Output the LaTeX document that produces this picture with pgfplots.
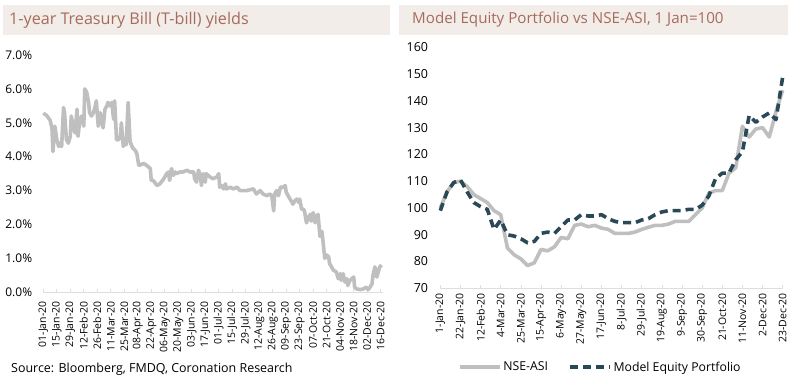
\documentclass[border=0pt]{standalone}
\usepackage{fontspec}
\setmainfont{Open Sans}
\usepackage{pgfplots}
\pgfplotsset{compat=1.18}
\definecolor{bandcol}{RGB}{243,237,234}
\definecolor{titlecol}{RGB}{166,107,91}
\definecolor{lgray}{RGB}{191,191,191}
\definecolor{dteal}{RGB}{42,73,88}
\definecolor{axcol}{RGB}{222,222,222}
\begin{document}
\begin{tikzpicture}
\path[use as bounding box] (0bp,0bp) rectangle (796bp,381bp);
\fill[bandcol] (3bp,346bp) rectangle (390bp,376bp);
\fill[bandcol] (399bp,346bp) rectangle (788bp,376bp);
\node[anchor=west, inner sep=0pt, text=titlecol, font=\fontsize{16.2}{18}\selectfont] at (9bp,361bp) {1-year Treasury Bill (T-bill) yields};
\node[anchor=west, inner sep=0pt, text=titlecol, font=\fontsize{15.2}{18}\selectfont] at (412bp,361bp) {Model Equity Portfolio vs NSE-ASI, 1 Jan=100};
\node[anchor=west, inner sep=0pt, font=\fontsize{12.5}{14}\selectfont] at (11bp,12bp) {Source: Bloomberg, FMDQ, Coronation Research};

\begin{axis}[
  at={(43.3bp,88.7bp)}, anchor=south west,
  scale only axis, width=339.3bp, height=237.3bp,
  xmin=0, xmax=352, ymin=0, ymax=7,
  axis lines*=left,
  y axis line style={draw=none},
  x axis line style={draw=axcol, line width=0.8bp},
  ytick style={draw=none},
  xtick style={draw=axcol, line width=0.6bp},
  tick align=inside, major tick length=3bp,
  ytick={0,1,2,3,4,5,6,7},
  yticklabels={0.0\%,1.0\%,2.0\%,3.0\%,4.0\%,5.0\%,6.0\%,7.0\%},
  yticklabel style={font=\fontsize{12}{14}\selectfont, inner sep=0pt, anchor=east, xshift=-11bp},
  xtick={0,14,...,350},
  xticklabels={01-Jan-20,15-Jan-20,29-Jan-20,12-Feb-20,26-Feb-20,11-Mar-20,25-Mar-20,08-Apr-20,22-Apr-20,06-May-20,20-May-20,03-Jun-20,17-Jun-20,01-Jul-20,15-Jul-20,29-Jul-20,12-Aug-20,26-Aug-20,09-Sep-20,23-Sep-20,07-Oct-20,21-Oct-20,04-Nov-20,18-Nov-20,02-Dec-20,16-Dec-20},
  xticklabel style={font=\fontsize{10.5}{12}\selectfont, inner sep=0pt, rotate=90, anchor=east},
  xticklabel shift=9bp,
  clip=false,
]
\addplot[lgray, line width=3.6bp, line join=round] coordinates {
(0,5.28)(3,5.23)(7,5.08)(9,4.84)(10,4.15)(12,4.9)(14,4.5)(16,4.3)(17,4.4)(19,4.3)
(21,5.45)(22,5.3)(24,4.5)(26,4.4)(28,4.6)(29,5.2)(31,4.9)(33,4.7)(35,5.4)(36,4.6)
(38,5.1)(40,5.2)(42,4.9)(43,6.0)(45,5.9)(47,5.6)(48,5.3)(50,5.2)(52,5.3)(54,5.5)
(55,5.65)(57,4.9)(59,5.3)(61,5.0)(62,4.85)(64,5.4)(66,5.5)(67,5.6)(69,5.5)(71,5.6)
(73,5.1)(74,5.65)(76,4.5)(78,4.5)(80,4.6)(81,5.0)(83,4.3)(85,4.5)(86,4.35)(88,5.6)
(90,4.45)(92,4.3)(93,4.25)(95,4.2)(97,4.1)(99,3.75)(100,3.75)(104,3.8)(107,3.75)(111,3.65)
(112,3.3)(114,3.3)(118,3.15)(121,3.2)(125,3.35)(128,3.5)(130,3.55)(131,3.3)(133,3.65)(135,3.45)
(137,3.55)(138,3.5)(142,3.55)(145,3.55)(149,3.6)(152,3.55)(156,3.55)(157,3.35)(159,3.25)(161,3.6)
(163,3.45)(164,3.15)(166,3.5)(168,3.25)(169,3.5)(173,3.4)(176,3.35)(180,3.4)(182,3.5)(183,3.1)
(185,3.15)(187,3.05)(189,3.2)(190,3.05)(194,3.1)(197,3.05)(201,3.1)(204,3.0)(211,3.0)(218,3.05)
(221,2.9)(225,3.0)(228,2.9)(232,2.85)(235,2.9)(237,2.85)(239,2.4)(240,2.9)(242,3.0)(244,2.85)
(246,3.1)(249,3.1)(251,3.15)(252,2.95)(256,2.75)(259,2.6)(261,2.7)(263,2.75)(265,2.65)(266,2.75)
(268,2.45)(270,2.45)(271,2.4)(273,2.05)(275,2.2)(277,2.3)(278,2.1)(280,2.35)(282,2.05)(284,2.25)
(285,2.3)(287,1.65)(289,1.8)(290,1.55)(292,1.0)(294,1.1)(296,1.05)(297,0.85)(301,0.65)(304,0.6)
(306,0.4)(308,0.55)(309,0.35)(311,0.55)(313,0.3)(315,0.4)(316,0.2)(318,0.35)(322,0.45)(323,0.15)
(325,0.1)(329,0.08)(332,0.1)(335,0.15)(337,0.08)(339,0.15)(341,0.25)(342,0.5)(344,0.75)(346,0.45)
(348,0.65)(349,0.75)(351,0.8)
};
\end{axis}

\begin{axis}[
  at={(440.3bp,92.7bp)}, anchor=south west,
  scale only axis, width=342.4bp, height=241bp,
  xmin=0, xmax=357, ymin=70, ymax=160,
  axis lines*=left,
  y axis line style={draw=none},
  x axis line style={draw=axcol, line width=0.8bp},
  ytick style={draw=none},
  xtick style={draw=axcol, line width=0.6bp},
  tick align=inside, major tick length=3bp,
  ytick={70,80,...,160},
  yticklabels={70,80,90,100,110,120,130,140,150,160},
  yticklabel style={font=\fontsize{12.5}{14}\selectfont, inner sep=0pt, anchor=east, xshift=-12bp},
  xtick={0,21,...,357},
  xticklabels={1-Jan-20,22-Jan-20,12-Feb-20,4-Mar-20,25-Mar-20,15-Apr-20,6-May-20,27-May-20,17-Jun-20,8-Jul-20,29-Jul-20,19-Aug-20,9-Sep-20,30-Sep-20,21-Oct-20,11-Nov-20,2-Dec-20,23-Dec-20},
  xticklabel style={font=\fontsize{10.5}{12}\selectfont, inner sep=0pt, rotate=90, anchor=east},
  xticklabel shift=5bp,
  clip=false,
  legend columns=2,
  legend style={draw=none, fill=none, at={(0.467,-0.327)}, anchor=center,
    font=\fontsize{12.3}{14}\selectfont, /tikz/every even column/.append style={column sep=18bp}},
  legend image code/.code={\draw[#1] (0bp,0bp) -- (40bp,0bp);},
]
\addplot[lgray, line width=3.6bp, line join=round] coordinates {
(0,100)(7,106)(14,109.5)(21,110)(28,108)(35,105)(42,103.5)(49,102)(56,99)(63,97.5)
(70,85)(77,82.5)(84,81)(91,78.5)(98,79.5)(105,84.5)(112,84)(119,85.5)(126,89)(133,88.5)
(140,93.5)(147,94)(154,93)(161,93.5)(168,92.5)(175,92)(182,90.5)(189,90.5)(196,90.5)(203,91)
(210,92)(217,92.8)(224,93.5)(231,93.5)(238,94)(245,95)(252,95)(259,95)(266,97.5)(273,100)
(280,105.5)(287,106.5)(294,106.5)(301,113)(308,115)(315,130.5)(322,126.5)(329,129.5)(336,130)(343,126.5)
(350,136)(357,144)
};
\addlegendentry{NSE-ASI}
\addplot[dteal, line width=3.6bp, dash pattern=on 8bp off 5bp, line join=round] coordinates {
(0,99)(7,106)(14,109.5)(21,110.5)(28,106)(35,102)(42,100.5)(49,99.5)(56,92)(63,95.5)
(70,90)(77,89.5)(84,88.5)(91,87)(98,87.5)(105,90.5)(112,91)(119,90.5)(126,93)(133,95.5)
(140,95.5)(147,97.5)(154,97)(161,97)(168,97.5)(175,96)(182,95)(189,94.5)(196,94.5)(203,94.5)
(210,95.5)(217,96)(224,97.5)(231,98.5)(238,99)(245,99)(252,99)(259,99.5)(266,99.5)(273,101)
(280,104.5)(287,111)(294,113)(301,113)(308,118)(315,121)(322,134.5)(329,132)(336,134)(343,135.5)
(350,133)(357,149)
};
\addlegendentry{Model Equity Portfolio}
\end{axis}
\end{tikzpicture}
\end{document}
